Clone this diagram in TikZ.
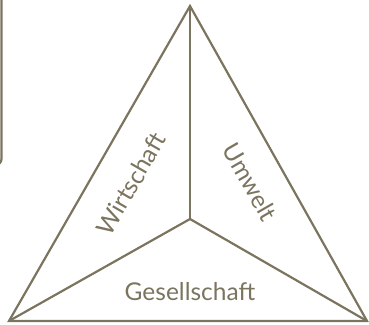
\documentclass[tikz,border=0pt]{standalone}
\usepackage{fontspec}
\setmainfont{Lato}
\usepackage{xcolor}
\usetikzlibrary{positioning}
\definecolor{pillarline}{HTML}{7B745E}

\begin{document}
\begin{tikzpicture}[
  x=1pt,y=-1pt,
  edge/.style={draw=pillarline,line width=2.2pt,line join=miter},
  pillar/.style={text=pillarline,font=\fontsize{24.5}{28}\selectfont,inner sep=0pt}
]
  \useasboundingbox (0,0) rectangle (369,324);
  \clip (0,0) rectangle (369,324);
  % partial box at the left edge
  \draw[edge,rounded corners=6pt] (-60,-20) rectangle (1.5,165);
  \coordinate (top) at (190,6);
  \coordinate (left) at (9,321);
  \coordinate (right) at (367,321);
  \coordinate (mid) at (190,219);
  \draw[edge] (top) -- (left) -- (right) -- cycle;
  \draw[edge] (mid) -- (top);
  \draw[edge] (mid) -- (left);
  \draw[edge] (mid) -- (right);
  \node[pillar,rotate=60] (wirtschaft) at (131,184) {Wirtschaft};
  \node[pillar,rotate=-60] (umwelt) at (250,182) {Umwelt};
  \node[pillar] (gesellschaft) at (190,292) {Gesellschaft};
\end{tikzpicture}
\end{document}
